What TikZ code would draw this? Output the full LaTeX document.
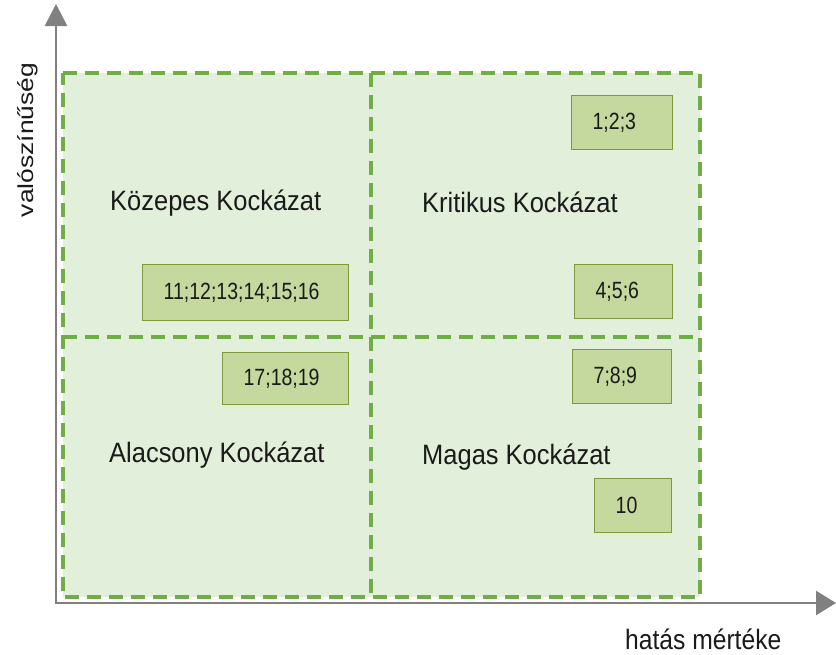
\documentclass[tikz,border=0pt]{standalone}
\usepackage{fontspec}
\setmainfont{Liberation Sans}
\newfontfamily\lblfont[FakeStretch=0.91]{Liberation Sans}
\newfontfamily\numfont[FakeStretch=0.83]{Liberation Sans}
\newfontfamily\axfont[FakeStretch=0.88]{Liberation Sans}
\usetikzlibrary{arrows.meta}
\definecolor{quadfill}{HTML}{E2EFDA}
\definecolor{quadline}{HTML}{70AD47}
\definecolor{boxfill}{HTML}{C5D89E}
\definecolor{boxline}{HTML}{7B9A3C}
\definecolor{axisgray}{HTML}{808080}
\definecolor{txt}{HTML}{1A1A1A}
\begin{document}
\begin{tikzpicture}[x=1pt,y=-1pt,
  quadfillst/.style={fill=quadfill},
  quadedge/.style={draw=quadline, line width=4.5pt, dash pattern=on 14pt off 8pt},
  axisline/.style={draw=axisgray, line width=2.5pt,
     {Triangle[length=22pt,width=22pt]}-{Triangle[length=20pt,width=24pt]}},
  zonelbl/.style={anchor=base west, inner sep=0pt, text=txt,
     font=\lblfont\fontsize{28}{32}\selectfont},
  numbox/.style={anchor=north west, rectangle, fill=boxfill, draw=boxline,
     line width=1.3pt, inner xsep=21pt, inner ysep=0pt, align=left, text=txt,
     font=\numfont\fontsize{23.5}{26}\selectfont},
  axlbl/.style={inner sep=0pt, text=txt}
]
\useasboundingbox (0,0) rectangle (836,654);
\fill[white] (0,0) rectangle (836,654);

% quadrants
\fill[quadfillst] (63,73) rectangle (371,337);
\fill[quadfillst] (371,73) rectangle (700,337);
\fill[quadfillst] (63,337) rectangle (371,597);
\fill[quadfillst] (371,337) rectangle (700,597);
\draw[quadedge] (63,73) -- (700,73) -- (700,597) -- (63,597) -- cycle;
\draw[quadedge] (371,73) -- (371,597);
\draw[quadedge] (63,337) -- (700,337);

% axes
\coordinate (O) at (56,603);
\coordinate (ytip) at (56,4);
\coordinate (xtip) at (836,603);
\draw[axisline] (ytip) -- (O) -- (xtip);

\node[axlbl, rotate=90] (ylab) at (28,140)
  {\fontsize{26.4}{30}\selectfont\scalebox{1}[0.82]{valószínűség}};
\node[axlbl, anchor=base west] (xlab) at (625,649)
  {\axfont\fontsize{28}{32}\selectfont hatás mértéke};

% zone labels
\node[zonelbl] (kozepes) at (110,210) {Közepes Kockázat};
\node[zonelbl] (kritikus) at (422,212) {Kritikus Kockázat};
\node[zonelbl] (alacsony) at (109,462) {Alacsony Kockázat};
\node[zonelbl] (magas) at (422,464) {Magas Kockázat};

% number boxes
\node[numbox, text width=164pt, minimum height=56pt] (b11) at (142,264) {11;12;13;14;15;16};
\node[numbox, text width=59pt, minimum height=54pt] (b1) at (571,95) {1;2;3};
\node[numbox, text width=56pt, minimum height=54pt] (b4) at (574,264) {4;5;6};
\node[numbox, text width=84pt, minimum height=52pt] (b17) at (222,352) {17;18;19};
\node[numbox, text width=57pt, minimum height=54pt] (b7) at (572,349) {7;8;9};
\node[numbox, text width=35pt, minimum height=54pt] (b10) at (594,478) {10};
\end{tikzpicture}
\end{document}
